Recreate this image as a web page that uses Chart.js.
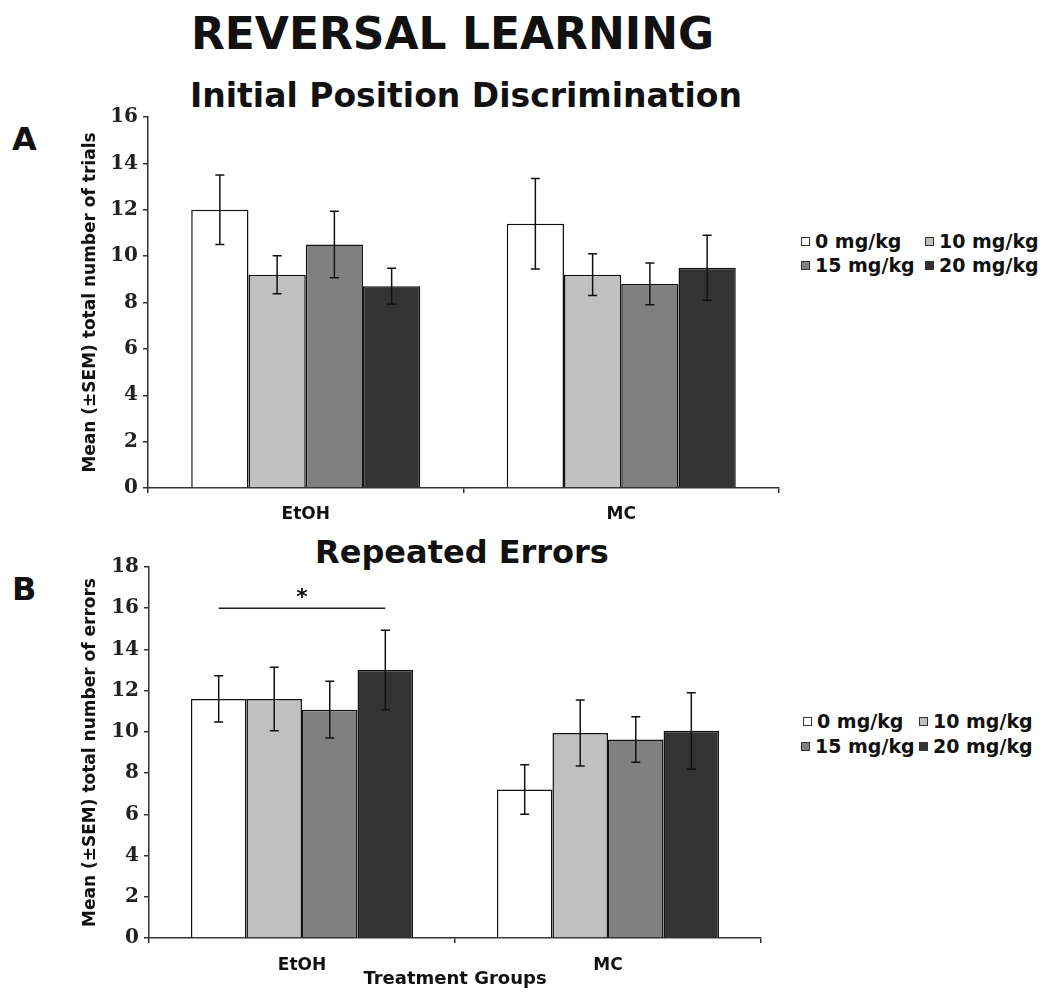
<!DOCTYPE html>
<html>
<head>
<meta charset="utf-8">
<script src="https://cdn.jsdelivr.net/npm/chart.js@4"></script>
<style>
  body { margin: 0; background: #fff; width: 1050px; height: 992px; position: relative; overflow: hidden; }
  .txt { position: absolute; font-family: "DejaVu Sans", sans-serif; font-weight: bold; color: #111; white-space: nowrap; }
  canvas { position: absolute; left: 0; }
  .leg { position: absolute; font-family: "DejaVu Sans", sans-serif; font-weight: bold; font-size: 19px; color: #111; white-space: nowrap; line-height: 20px; }
  .sw { display: inline-block; width: 7px; height: 7px; border: 1px solid #333; margin-right: 5px; vertical-align: 2px; }
</style>
</head>
<body>
<div class="txt" style="left:0;width:905px;text-align:center;top:8px;font-size:44px;">REVERSAL LEARNING</div>
<div class="txt" style="left:0;width:932px;text-align:center;top:76px;font-size:33px;">Initial Position Discrimination</div>
<div class="txt" style="left:12px;top:120px;font-size:32px;">A</div>
<div class="txt" style="left:0;width:924px;text-align:center;top:533px;font-size:32px;">Repeated Errors</div>
<div class="txt" style="left:12px;top:570px;font-size:32px;">B</div>

<canvas id="topChart" width="800" height="430" style="top:100px;width:800px;height:430px;"></canvas>
<canvas id="bottomChart" width="782" height="442" style="top:550px;width:782px;height:442px;"></canvas>

<div class="leg" style="left:801px;top:231px;"><span class="sw" style="background:#fff"></span>0 mg/kg</div>
<div class="leg" style="left:925px;top:231px;"><span class="sw" style="background:#c0c0c0"></span>10 mg/kg</div>
<div class="leg" style="left:801px;top:255px;"><span class="sw" style="background:#808080"></span>15 mg/kg</div>
<div class="leg" style="left:925px;top:255px;"><span class="sw" style="background:#333"></span>20 mg/kg</div>

<div class="leg" style="left:803px;top:711px;"><span class="sw" style="background:#fff"></span>0 mg/kg</div>
<div class="leg" style="left:919px;top:711px;"><span class="sw" style="background:#c0c0c0"></span>10 mg/kg</div>
<div class="leg" style="left:801px;top:736px;"><span class="sw" style="background:#808080"></span>15 mg/kg</div>
<div class="leg" style="left:919px;top:736px;"><span class="sw" style="background:#333"></span>20 mg/kg</div>

<script>
// values
const groups = ["EtOH", "MC"];
const doses = ["0 mg/kg", "10 mg/kg", "15 mg/kg", "20 mg/kg"];
const doseColors = ["#ffffff", "#c0c0c0", "#808080", "#333333"];

// A: total number of trials
const trials0 = [12.0, 11.4];
const trials10 = [9.2, 9.2];
const trials15 = [10.5, 8.8];
const trials20 = [8.7, 9.5];
const trialsSem0 = [1.5, 1.95];
const trialsSem10 = [0.82, 0.9];
const trialsSem15 = [1.43, 0.9];
const trialsSem20 = [0.78, 1.4];
const trialsTicks = [0, 2, 4, 6, 8, 10, 12, 14, 16];

// B: repeated errors
const errors0 = [11.6, 7.2];
const errors10 = [11.6, 9.95];
const errors15 = [11.08, 9.63];
const errors20 = [13.0, 10.05];
const errorsSem0 = [1.12, 1.2];
const errorsSem10 = [1.54, 1.6];
const errorsSem15 = [1.38, 1.1];
const errorsSem20 = [1.93, 1.85];
const errorsTicks = [0, 2, 4, 6, 8, 10, 12, 14, 16, 18];
const sigLevel = 16; // bracket over EtOH 0 vs 20 mg/kg

const errorBars = {
  id: 'errorBars',
  afterDatasetsDraw(chart) {
    const ctx = chart.ctx;
    const y = chart.scales.y;
    chart.data.datasets.forEach((ds, i) => {
      const meta = chart.getDatasetMeta(i);
      meta.data.forEach((bar, j) => {
        const v = ds.data[j], e = ds.sem[j];
        const top = y.getPixelForValue(v + e);
        const bot = y.getPixelForValue(v - e);
        ctx.save();
        ctx.strokeStyle = '#111';
        ctx.lineWidth = 1.5;
        ctx.beginPath();
        ctx.moveTo(bar.x, top); ctx.lineTo(bar.x, bot);
        ctx.moveTo(bar.x - 4.5, top); ctx.lineTo(bar.x + 4.5, top);
        ctx.moveTo(bar.x - 4.5, bot); ctx.lineTo(bar.x + 4.5, bot);
        ctx.stroke();
        ctx.restore();
      });
    });
  }
};

const sigBracket = {
  id: 'sigBracket',
  afterDatasetsDraw(chart) {
    const ctx = chart.ctx;
    const y = chart.scales.y.getPixelForValue(sigLevel);
    const x1 = chart.getDatasetMeta(0).data[0].x;
    const x2 = chart.getDatasetMeta(3).data[0].x;
    ctx.save();
    ctx.strokeStyle = '#222';
    ctx.lineWidth = 1.5;
    ctx.beginPath();
    ctx.moveTo(x1, y); ctx.lineTo(x2, y);
    ctx.stroke();
    ctx.fillStyle = '#111';
    ctx.font = 'bold 22px "DejaVu Sans"';
    ctx.textAlign = 'center';
    ctx.textBaseline = 'alphabetic';
    ctx.fillText('*', (x1 + x2) / 2, y - 4);
    ctx.restore();
  }
};

function makeChart(id, series, sems, yMax, tickVals, yTitle, xTitle, yWidth, xHeight, padTop, tickPad, extraPlugins) {
  const datasets = series.map((s, i) => ({
    label: doses[i],
    data: s,
    sem: sems[i],
    backgroundColor: doseColors[i],
    borderColor: '#111',
    borderWidth: 1.5,
    categoryPercentage: 0.726,
    barPercentage: 1.0
  }));
  return new Chart(document.getElementById(id), {
    type: 'bar',
    data: { labels: groups, datasets: datasets },
    options: {
      responsive: false,
      animation: false,
      layout: { padding: { top: padTop, right: 21, bottom: 0, left: 0 } },
      plugins: { legend: { display: false }, tooltip: { enabled: false } },
      scales: {
        x: {
          grid: { display: true, drawOnChartArea: false, offset: true, tickLength: 5, color: '#333', lineWidth: 1.5 },
          border: { display: true, color: '#333', width: 1.5 },
          ticks: { color: '#111', font: { family: 'DejaVu Sans', weight: 'bold', size: 17 }, padding: tickPad },
          title: { display: !!xTitle, text: xTitle, color: '#111', font: { family: 'DejaVu Sans', weight: 'bold', size: 18 }, padding: { top: 0, bottom: 2 } },
          afterFit(scale) { scale.height = xHeight; }
        },
        y: {
          min: 0, max: yMax,
          afterBuildTicks(scale) { scale.ticks = tickVals.map(v => ({ value: v })); },
          grid: { display: true, drawOnChartArea: false, tickLength: 5, color: '#333', lineWidth: 1.5 },
          border: { display: true, color: '#333', width: 1.5 },
          ticks: { color: '#222', font: { family: 'DejaVu Serif', weight: 'bold', size: 20 }, padding: 5 },
          title: { display: true, text: yTitle, color: '#111', font: { family: 'DejaVu Sans', weight: 'bold', size: 17 }, padding: { top: 80, bottom: 0 } },
          afterFit(scale) { scale.width = yWidth; }
        }
      }
    },
    plugins: [errorBars].concat(extraPlugins)
  });
}

makeChart('topChart',
  [trials0, trials10, trials15, trials20],
  [trialsSem0, trialsSem10, trialsSem15, trialsSem20],
  16, trialsTicks, 'Mean (±SEM) total number of trials', '', 148, 42, 10, 11, []);

makeChart('bottomChart',
  [errors0, errors10, errors15, errors20],
  [errorsSem0, errorsSem10, errorsSem15, errorsSem20],
  18, errorsTicks, 'Mean (±SEM) total number of errors', 'Treatment Groups', 149, 54, 13, 12, [sigBracket]);
</script>
</body>
</html>
